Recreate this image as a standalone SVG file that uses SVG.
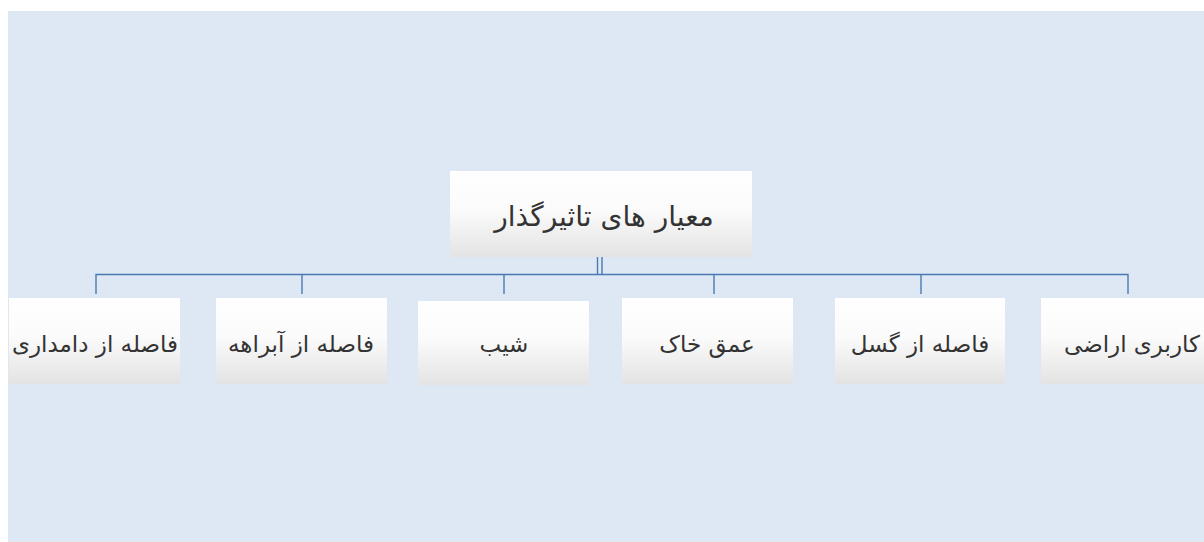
<svg xmlns="http://www.w3.org/2000/svg" width="1204" height="542" viewBox="0 0 1204 542">
  <defs>
    <linearGradient id="boxFill" x1="0" y1="0" x2="0" y2="1">
      <stop offset="0" stop-color="#ffffff"/>
      <stop offset="0.45" stop-color="#fbfbfb"/>
      <stop offset="1" stop-color="#e3e3e3"/>
    </linearGradient>
    <style>
      .box { fill: url(#boxFill); }
      .label { font-family: "DejaVu Sans", "Noto Sans", sans-serif; fill: #333333; text-anchor: middle; direction: rtl; }
      .root-label { font-size: 28px; }
      .child-label { font-size: 23px; }
      .link { stroke: #4a7ab0; stroke-width: 1.4; fill: none; }
    </style>
  </defs>

  <!-- page and canvas panel -->
  <rect x="0" y="0" width="1204" height="542" fill="#ffffff"/>
  <rect x="8" y="11" width="1196" height="531" fill="#dde8f4"/>

  <!-- connectors -->
  <g id="connectors">
    <line class="link" x1="597.5" y1="257" x2="597.5" y2="275"/>
    <line class="link" x1="602" y1="257" x2="602" y2="275"/>
    <path class="link" d="M96 294 V274.5 H1128 V294"/>
    <line class="link" x1="302" y1="274.5" x2="302" y2="294"/>
    <line class="link" x1="504" y1="274.5" x2="504" y2="294"/>
    <line class="link" x1="714" y1="274.5" x2="714" y2="294"/>
    <line class="link" x1="921" y1="274.5" x2="921" y2="294"/>
  </g>

  <!-- root node -->
  <g id="root">
    <rect class="box" x="450" y="171" width="302" height="86"/>
    <text class="label root-label" x="604" y="226">معیار های تاثیرگذار</text>
  </g>

  <!-- child nodes -->
  <g id="node-livestock">
    <rect class="box" x="9" y="298" width="171" height="86"/>
    <text class="label child-label" x="95" y="352">فاصله از دامداری</text>
  </g>
  <g id="node-waterway">
    <rect class="box" x="216" y="298" width="171" height="86"/>
    <text class="label child-label" x="301" y="352">فاصله از آبراهه</text>
  </g>
  <g id="node-slope">
    <rect class="box" x="418" y="301" width="171" height="84"/>
    <text class="label child-label" x="504" y="352">شیب</text>
  </g>
  <g id="node-soil">
    <rect class="box" x="622" y="298" width="171" height="86"/>
    <text class="label child-label" x="707" y="352">عمق خاک</text>
  </g>
  <g id="node-fault">
    <rect class="box" x="835" y="298" width="170" height="86"/>
    <text class="label child-label" x="920" y="352">فاصله از گسل</text>
  </g>
  <g id="node-landuse">
    <rect class="box" x="1041" y="298" width="163" height="86"/>
    <text class="label child-label" x="1132" y="352">کاربری اراضی</text>
  </g>
</svg>
